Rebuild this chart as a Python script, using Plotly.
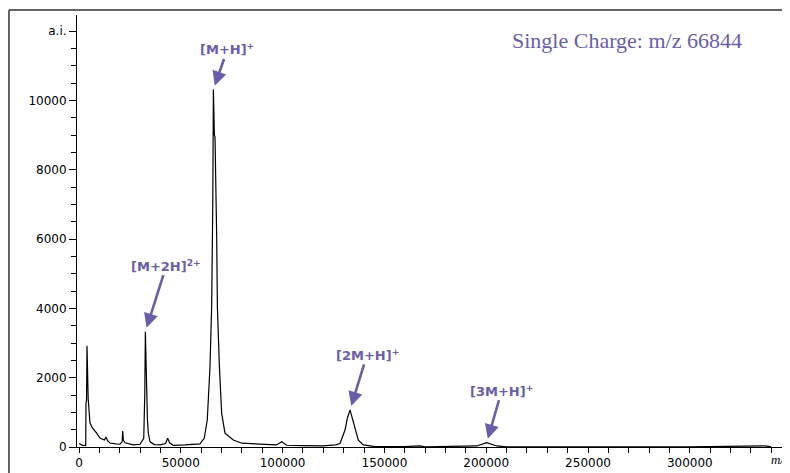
import plotly.graph_objects as go

# Spectrum (m/z vs intensity, a.i.)
mz = [0, 1000, 2000, 2950, 3300, 3440, 3700, 3930, 4260, 4500, 5400, 6500, 8680, 10300,
      12500, 13260, 14000, 15200, 18000, 20100, 21200, 21460, 21800, 22600, 26700, 30000,
      31800, 32300, 32600, 32900, 33250, 33600, 34050, 34900, 37000, 39800, 42500, 43550,
      44500, 46300, 52000, 59400, 61500, 63000, 64340, 65150, 65700, 66000, 66500, 66800,
      67640, 67970, 68950, 70080, 71700, 75800, 80000, 90000, 97000, 99550, 102000, 110000,
      120000, 126000, 128200, 130650, 131800, 133100, 133930, 135560, 137200, 139650,
      144550, 160000, 167500, 170000, 190000, 195300, 200250, 205150, 210000, 250000,
      300000, 337000, 340000]
intensity = [100, 60, 40, 50, 40, 1270, 1350, 2920, 2280, 1400, 690, 560, 400, 260,
             200, 290, 180, 115, 90, 80, 150, 460, 200, 120, 60, 80,
             250, 1500, 3330, 2340, 2250, 800, 400, 150, 70, 60, 100, 250,
             120, 50, 60, 90, 250, 780, 2320, 4050, 7000, 10320, 9000, 8950,
             6000, 4050, 2320, 970, 400, 200, 110, 70, 60, 150, 50, 40,
             30, 60, 100, 490, 830, 1070, 900, 490, 200, 60,
             20, 10, 30, 5, 10, 30, 125, 30, 5, 5,
             5, 30, 5]

# Peak labels and arrow targets
peak_labels = ["[M+H]<sup>+</sup>", "[M+2H]<sup>2+</sup>", "[2M+H]<sup>+</sup>", "[3M+H]<sup>+</sup>"]
peak_mz = [66000, 32600, 133100, 200250]
peak_int = [10320, 3330, 1070, 125]

y_tickvals = [0, 2000, 4000, 6000, 8000, 10000, 12000]
y_ticktext = ["0", "2000", "4000", "6000", "8000", "10000", "a.i."]
x_tickvals = [0, 50000, 100000, 150000, 200000, 250000, 300000]
x_ticktext = ["0", "50000", "100000", "150000", "200000", "250000", "300000"]

title_text = "Single Charge: m/z 66844"
purple = "#6A5EA8"

fig = go.Figure()
fig.add_trace(go.Scatter(x=mz, y=intensity, mode="lines",
                         line=dict(color="black", width=1.2), hoverinfo="skip",
                         showlegend=False))

# text-centre offsets (pixels) relative to arrow tip
text_off = [(14, -40), (21, -66), (17, -55), (15, -52)]

for lab, xm, yi, to in zip(peak_labels, peak_mz, peak_int, text_off):
    fig.add_annotation(x=xm, y=yi, text="<b>" + lab + "</b>", showarrow=True,
                       arrowhead=2, arrowsize=1.1, arrowwidth=2.6, arrowcolor=purple,
                       ax=to[0], ay=to[1], standoff=4,
                       font=dict(family="DejaVu Sans", size=13, color=purple))

fig.add_annotation(xref="paper", yref="paper", x=0.607, y=0.94, text=title_text,
                   showarrow=False, xanchor="left", yanchor="middle",
                   font=dict(family="Liberation Serif", size=22, color=purple))
fig.add_annotation(xref="paper", yref="paper", x=0.971, y=-0.03, text="<i>m/z</i>",
                   showarrow=False, xanchor="left", yanchor="middle",
                   font=dict(family="Liberation Serif", size=13, color="black"))

# outer frame: left and top edges (the others fall outside the picture)
frame_style = dict(color="#333333", width=1.5)
fig.add_shape(type="line", xref="paper", yref="paper", x0=-0.0954, y0=-0.2,
              x1=-0.0954, y1=1.0116, line=frame_style, layer="below")
fig.add_shape(type="line", xref="paper", yref="paper", x0=-0.0954, y0=1.0116,
              x1=1.02, y1=1.0116, line=frame_style, layer="below")

# the page body adds an 8 px offset, so margins are reduced by 8 px at left/top
fig.update_layout(
    width=790, height=473,
    margin=dict(l=69, r=8, t=7, b=34, autoexpand=False),
    paper_bgcolor="white", plot_bgcolor="white",
    xaxis=dict(range=[-980, 349200], showgrid=False, zeroline=False, automargin=False,
               showline=True, linecolor="black", linewidth=1,
               tickvals=x_tickvals, ticktext=x_ticktext, ticks="outside", ticklen=5,
               tickcolor="black", tickwidth=1,
               minor=dict(dtick=10000, tick0=0, ticks="outside", ticklen=5,
                          tickcolor="black", showgrid=False),
               tickfont=dict(family="DejaVu Sans", size=12, color="black")),
    yaxis=dict(range=[0, 12470], showgrid=False, zeroline=False, automargin=False,
               showline=True, linecolor="black", linewidth=1,
               tickvals=y_tickvals, ticktext=y_ticktext, ticks="outside", ticklen=7,
               tickcolor="black", tickwidth=1,
               minor=dict(dtick=500, tick0=0, ticks="outside", ticklen=5,
                          tickcolor="black", showgrid=False),
               tickfont=dict(family="DejaVu Sans", size=12, color="black")),
)

fig.write_html("out.html")
